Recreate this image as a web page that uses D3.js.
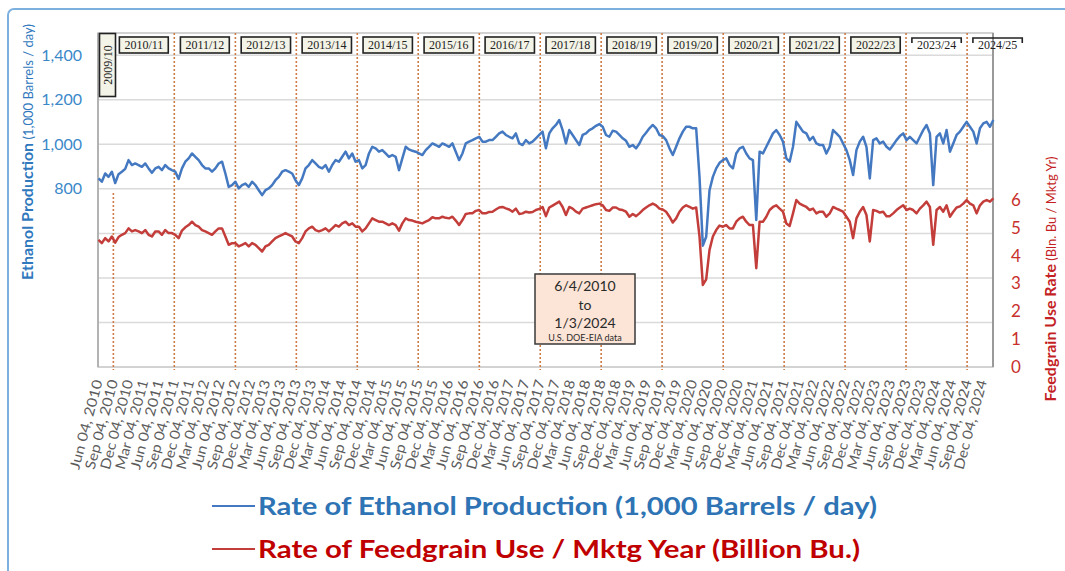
<!DOCTYPE html>
<html><head><meta charset="utf-8">
<script src="https://cdn.jsdelivr.net/npm/d3@7"></script>
<style>body{margin:0;background:#fff;} svg{display:block;}</style>
</head><body><svg id="c" width="1065" height="571"></svg>
<script>
// ---------- DATA ----------
const startDate = "2010-06-04";   // first weekly reading
const stepDays = 20;              // spacing of the values below
const ethanol = [
847,832,869,854,877,826,866,877,890,929,
907,914,907,899,914,892,872,892,899,884,
907,892,884,877,845,892,922,937,959,944,
929,907,892,892,877,892,914,922,869,809,
817,832,802,817,824,809,832,817,794,772,
794,802,817,839,854,877,884,877,869,839,
817,847,892,907,929,914,899,892,907,877,
907,929,922,944,967,937,959,922,929,892,
907,959,989,982,967,974,959,944,952,
944,884,937,989,977,971,967,959,952,974,989,
1004,997,989,1004,997,989,1004,967,929,959,
1004,1012,1019,1027,1034,1012,1012,1019,1019,1034,
1049,1057,1042,1034,1027,1049,1004,997,1019,1004,
1012,1027,1042,1057,982,1049,1072,1087,1109,1064,
1004,1064,1042,1019,997,1042,1049,1064,1072,1083,
1091,1079,1042,1034,1061,1057,1042,1027,1016,989,
997,982,1004,1034,1052,1072,1087,1072,1042,1037,
1019,982,952,989,1027,1057,1079,
1079,1072,1072,854,545,585,794,854,892,917,
929,937,907,892,959,982,989,959,937,929,
660,967,959,989,1019,1049,1064,1042,1012,937,
922,989,1101,1079,1057,1049,1019,1034,1004,997,
997,959,989,1064,1049,1034,1004,974,929,862,
974,1012,1034,989,847,1019,1027,1004,1012,989,
977,997,1019,1037,1049,1019,1034,1019,1004,1034,
1064,1087,1049,817,1034,1049,1004,1064,967,1004,
1042,1057,1079,1101,1079,1057,1004,1072,1094,1101,
1079,1109
];
const feedgrain = [
4.57,4.45,4.63,4.51,4.69,4.47,4.67,4.75,4.81,4.98,
4.87,4.92,4.87,4.81,4.92,4.75,4.69,4.87,4.87,4.75,
4.92,4.81,4.81,4.75,4.63,4.90,5.02,5.10,5.22,5.10,
5.04,4.92,4.87,4.81,4.75,4.87,4.98,4.98,4.69,4.39,
4.45,4.45,4.33,4.39,4.45,4.33,4.45,4.39,4.27,4.15,
4.33,4.39,4.51,4.63,4.69,4.75,4.81,4.75,4.69,4.51,
4.45,4.63,4.87,4.98,5.04,4.92,4.87,4.92,4.98,4.87,
4.98,5.10,5.04,5.16,5.22,5.10,5.16,5.04,5.04,4.87,
4.98,5.16,5.34,5.28,5.22,5.22,5.16,5.10,5.16,
5.10,4.90,5.16,5.34,5.28,5.26,5.22,5.19,5.16,5.22,5.28,
5.38,5.34,5.34,5.40,5.36,5.34,5.40,5.26,5.10,5.28,
5.50,5.52,5.52,5.61,5.64,5.52,5.52,5.57,5.58,5.66,
5.73,5.75,5.70,5.66,5.58,5.69,5.50,5.52,5.58,5.55,
5.57,5.64,5.68,5.75,5.42,5.73,5.80,5.87,5.94,5.75,
5.46,5.75,5.69,5.58,5.52,5.69,5.73,5.77,5.81,5.85,
5.87,5.81,5.64,5.61,5.73,5.73,5.66,5.64,5.58,5.40,
5.50,5.42,5.52,5.64,5.73,5.81,5.87,5.81,5.69,5.66,
5.58,5.40,5.19,5.34,5.58,5.73,5.81,
5.75,5.69,5.73,4.69,2.95,3.15,4.21,4.69,4.92,5.08,
5.04,5.10,4.98,4.98,5.22,5.34,5.40,5.22,5.10,5.10,
3.55,5.22,5.22,5.40,5.64,5.75,5.81,5.69,5.58,5.16,
5.07,5.52,6.00,5.87,5.81,5.75,5.64,5.69,5.52,5.58,
5.58,5.40,5.52,5.75,5.69,5.64,5.58,5.40,5.22,4.63,
5.34,5.58,5.75,5.46,4.51,5.64,5.61,5.55,5.58,5.42,
5.42,5.52,5.64,5.73,5.81,5.64,5.69,5.64,5.52,5.69,
5.81,5.94,5.75,4.39,5.64,5.75,5.58,5.81,5.40,5.58,
5.73,5.77,5.87,6.00,5.87,5.81,5.52,5.81,5.94,6.00,
5.94,6.06
];
const mktYears = ["2010/11","2011/12","2012/13","2013/14","2014/15","2015/16","2016/17","2017/18",
  "2018/19","2019/20","2020/21","2021/22","2022/23","2023/24","2024/25"];
const firstMktYear = "2009/10";
const mktYearStarts = ["2010-09-01","2011-09-01","2012-09-01","2013-09-01","2014-09-01","2015-09-01",
  "2016-09-01","2017-09-01","2018-09-01","2019-09-01","2020-09-01","2021-09-01","2022-09-01",
  "2023-09-01","2024-09-01","2025-09-01"];
const leftTicks = [800,1000,1200,1400];
const gridValues = [200,400,600,800,1000,1200,1400];
const rightTicks = [0,1,2,3,4,5,6];
const noteLines = ["6/4/2010","to","1/3/2024"];
const noteSource = "U.S. DOE-EIA data";
const legendLabels = ["Rate of Ethanol Production (1,000 Barrels / day)",
                      "Rate of Feedgrain Use / Mktg Year (Billion Bu.)"];

// ---------- CHART ----------
const svg = d3.select("#c");
const L = 98, R = 993, T = 33, B = 367;
const BLUE = "#4479c1", RED = "#c33d3a";
const parse = d3.timeParse("%Y-%m-%d");
const t0 = parse(startDate);
const dates = ethanol.map((_, i) => d3.timeDay.offset(t0, i * stepDays));

const x = d3.scaleTime([new Date(2010, 5, 1), new Date(2025, 1, 3)], [L, R]);
const yL = d3.scaleLinear([0, 1500], [B, T]);
const yR = d3.scaleLinear([0, 12], [B, T]);

// outer light-blue frame
svg.append("rect").attr("x", 8).attr("y", 9).attr("width", 1100).attr("height", 600)
  .attr("rx", 6).attr("fill", "none").attr("stroke", "#7cb0df").attr("stroke-width", 2);

// gridlines
svg.append("g").selectAll("line").data(gridValues).join("line")
  .attr("x1", L).attr("x2", R).attr("y1", d => yL(d)).attr("y2", d => yL(d))
  .attr("stroke", "#dadada").attr("stroke-width", 1.5);

// plot border
svg.append("rect").attr("x", L).attr("y", T).attr("width", R - L).attr("height", B - T)
  .attr("fill", "none").attr("stroke", "#c4c4c4").attr("stroke-width", 1.5);
svg.append("line").attr("x1", R).attr("x2", R).attr("y1", T).attr("y2", B)
  .attr("stroke", "#9a9a9a").attr("stroke-width", 2);
svg.append("line").attr("x1", L).attr("x2", L).attr("y1", T).attr("y2", B)
  .attr("stroke", "#a8a8a8").attr("stroke-width", 1.5);

// marketing-year dashed lines
const starts = mktYearStarts.map(parse);
svg.append("g").selectAll("line").data(starts.slice(0, 15)).join("line")
  .attr("x1", d => x(d)).attr("x2", d => x(d))
  .attr("y1", (d, i) => i === 0 ? 193 : T).attr("y2", B + 3)
  .attr("stroke", "#cf7b45").attr("stroke-width", 1.6).attr("stroke-dasharray", "2,2");

// lines
const lineL = d3.line().x((d, i) => x(dates[i])).y(d => yL(d));
const lineR = d3.line().x((d, i) => x(dates[i])).y(d => yR(d));
svg.append("path").datum(ethanol).attr("d", lineL).attr("fill", "none")
  .attr("stroke", BLUE).attr("stroke-width", 2.5).attr("stroke-linejoin", "round");
svg.append("path").datum(feedgrain).attr("d", lineR).attr("fill", "none")
  .attr("stroke", RED).attr("stroke-width", 2.5).attr("stroke-linejoin", "round");

// year boxes
const boxG = svg.append("g").attr("font-family", "Liberation Serif, serif").attr("font-size", 12);
mktYears.forEach((lab, i) => {
  const cx = (x(starts[i]) + x(starts[i + 1])) / 2;
  const g = boxG.append("g");
  const txt = g.append("text").attr("x", cx).attr("y", 49).attr("text-anchor", "middle")
    .attr("fill", "#222").text(lab);
  const w = txt.node().getComputedTextLength() + 10;
  if (i >= 13) {
    g.insert("path", "text").attr("d", `M${cx - w/2},43 V38 H${cx + w/2} V43`)
      .attr("fill", "none").attr("stroke", "#222").attr("stroke-width", 1.6);
  } else {
    g.insert("rect", "text").attr("x", cx - w / 2).attr("y", 37).attr("width", w).attr("height", 16)
      .attr("fill", "#f3f3e7").attr("stroke", "#222").attr("stroke-width", 1.6);
  }
});
// 2009/10 vertical box
boxG.append("rect").attr("x", 99.5).attr("y", 33.5).attr("width", 16).attr("height", 63)
  .attr("fill", "#f3f3e7").attr("stroke", "#222").attr("stroke-width", 1.6);
boxG.append("text").attr("transform", "translate(111.5,65) rotate(-90)").attr("text-anchor", "middle")
  .attr("fill", "#222").text(firstMktYear);

// x axis
const xTicks = d3.range(59).map(i => new Date(2010, 5 + 3 * i, 4));
const xAxis = svg.append("g").attr("transform", `translate(0,${B})`)
  .call(d3.axisBottom(x).tickValues(xTicks).tickFormat(d3.timeFormat("%b %d, %Y")).tickSize(0));
xAxis.select(".domain").remove();
xAxis.selectAll("text").attr("x", 0).attr("y", 0).attr("dy", "0.35em")
  .attr("transform", "translate(-1,13) rotate(-75)").attr("text-anchor", "end")
  .attr("font-family", "Lato, sans-serif").attr("font-size", 14).attr("fill", "#5c5c5c")
  .attr("textLength", 92).attr("lengthAdjust", "spacingAndGlyphs");

// left axis
const yAxL = svg.append("g").attr("transform", `translate(${L},0)`)
  .call(d3.axisLeft(yL).tickValues(leftTicks).tickFormat(d3.format(",")).tickSize(0).tickPadding(16));
yAxL.select(".domain").remove();
yAxL.selectAll("text").attr("font-family", "Lato, sans-serif").attr("font-size", 16)
  .attr("fill", "#3b88c9");

// right axis
const yAxR = svg.append("g").attr("transform", `translate(${R},0)`)
  .call(d3.axisRight(yR).tickValues(rightTicks).tickSize(0));
yAxR.select(".domain").remove();
yAxR.selectAll("text").attr("x", 23).attr("text-anchor", "middle")
  .attr("font-family", "Lato, sans-serif").attr("font-size", 17).attr("fill", "#c8302c");

// axis titles
const tL = svg.append("text").attr("transform", "translate(33,152) rotate(-90)")
  .attr("text-anchor", "middle").attr("font-family", "Lato, sans-serif").attr("fill", "#2f78bd");
tL.append("tspan").attr("font-weight", "bold").attr("font-size", 16).text("Ethanol Production");
tL.append("tspan").attr("font-size", 13).text(" (1,000 Barrels / day)");
const tR = svg.append("text").attr("transform", "translate(1056,279) rotate(-90)")
  .attr("text-anchor", "middle").attr("font-family", "Lato, sans-serif").attr("fill", "#c41f25");
tR.append("tspan").attr("font-weight", "bold").attr("font-size", 16).text("Feedgrain Use Rate");
tR.append("tspan").attr("font-size", 13).text(" (Bln. Bu / Mktg Yr)");

// note box
const nb = svg.append("g").attr("font-family", "Lato, sans-serif").attr("text-anchor", "middle").attr("fill", "#2a2a2a");
nb.append("rect").attr("x", 535).attr("y", 274).attr("width", 100).attr("height", 70)
  .attr("fill", "#fce4d6").attr("stroke", "#3a3a3a").attr("stroke-width", 1.5);
noteLines.forEach((s, i) => nb.append("text").attr("x", 585).attr("y", 291 + i * 18.5)
  .attr("font-size", 14).text(s));
nb.append("text").attr("x", 585).attr("y", 341).attr("font-size", 9).text(noteSource);

// legend
const lg = svg.append("g").attr("font-family", "Lato, sans-serif").attr("font-weight", "bold").attr("font-size", 25);
[[BLUE, "#2e74b5", 506, 619], [RED, "#c00000", 549, 602]].forEach((c, i) => {
  lg.append("line").attr("x1", 212).attr("x2", 255).attr("y1", c[2]).attr("y2", c[2])
    .attr("stroke", c[0]).attr("stroke-width", 2);
  lg.append("text").attr("x", 258).attr("y", c[2]).attr("dy", "0.35em").attr("fill", c[1])
    .attr("textLength", c[3]).attr("lengthAdjust", "spacingAndGlyphs").text(legendLabels[i]);
});
</script></body></html>
